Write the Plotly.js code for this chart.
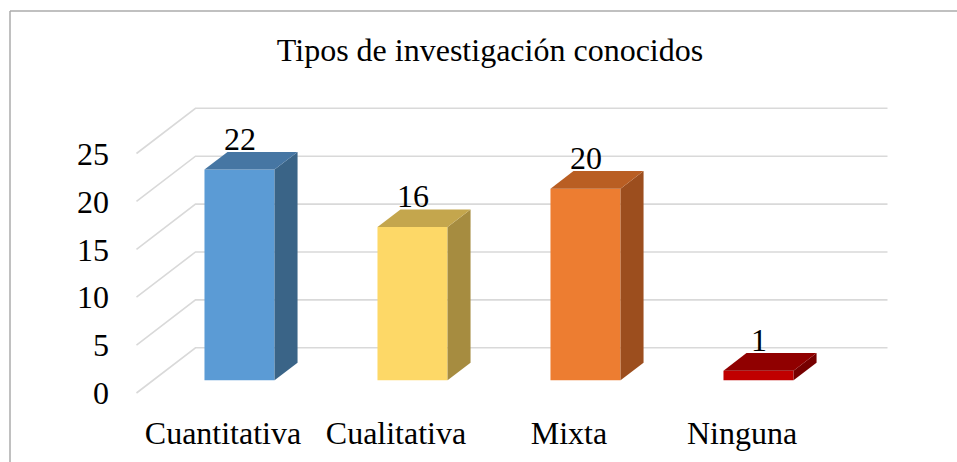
<!DOCTYPE html>
<html>
<head>
<meta charset="utf-8">
<script src="https://cdn.plot.ly/plotly-3.0.1.min.js"></script>
<style>
  html, body { margin: 0; padding: 0; background: #ffffff; }
  #chart { width: 957px; height: 462px; }
</style>
</head>
<body>
<div id="chart"></div>
<script>
// ---- data ----
const categories = ['Cuantitativa', 'Cualitativa', 'Mixta', 'Ninguna'];
const values = [22, 16, 20, 1];
const yTicks = [0, 5, 10, 15, 20, 25];
const titleText = 'Tipos de investigación conocidos';

// ---- styles ----
const frontColors = ['#5B9BD5', '#FDD867', '#ED7D31', '#C00000'];
const topColors   = ['#4676A3', '#C4A64D', '#B95E23', '#900000'];
const sideColors  = ['#3A6487', '#A68C40', '#9C4E1E', '#760000'];

// oblique projection of depth (in axis units)
const DX = 0.341;   // x shift from front plane to back wall
const DY = 4.72;    // y shift from front plane to back wall
const D0 = 0.28;    // bar front depth fraction
const D1 = 0.67;    // bar back depth fraction
const W = 0.405;    // bar width (category units)

const traces = [];

// gridlines (as shapes beneath the bars): front-left slanted segment + back wall line
const gridShapes = yTicks.map(t => ({
  type: 'path', xref: 'x', yref: 'y', layer: 'below',
  path: 'M ' + (-0.5) + ',' + t +
        ' L ' + (-0.5 + DX) + ',' + (t + DY) +
        ' L ' + (categories.length - 0.5 + DX) + ',' + (t + DY),
  line: { color: '#D9D9D9', width: 1.6 }
}));

// bar side and top faces
values.forEach((v, i) => {
  const cx0 = i + D0 * DX;
  const xL0 = cx0 - W / 2, xR0 = cx0 + W / 2;
  const ddx = (D1 - D0) * DX, ddy = (D1 - D0) * DY;
  const b0 = D0 * DY, t0 = v + D0 * DY;
  traces.push({
    type: 'scatter', mode: 'lines', fill: 'toself',
    x: [xR0, xR0, xR0 + ddx, xR0 + ddx, xR0],
    y: [b0, t0, t0 + ddy, b0 + ddy, b0],
    fillcolor: sideColors[i], line: { width: 0, color: sideColors[i] }, hoverinfo: 'skip'
  });
  traces.push({
    type: 'scatter', mode: 'lines', fill: 'toself',
    x: [xL0, xR0, xR0 + ddx, xL0 + ddx, xL0],
    y: [t0, t0, t0 + ddy, t0 + ddy, t0],
    fillcolor: topColors[i], line: { width: 0, color: topColors[i] }, hoverinfo: 'skip'
  });
});

// bar front faces
traces.push({
  type: 'bar',
  x: values.map((v, i) => i + D0 * DX),
  y: values,
  base: values.map(() => D0 * DY),
  width: W,
  marker: { color: frontColors, line: { width: 0 } },
  hoverinfo: 'skip'
});

// value labels
const annotations = values.map((v, i) => ({
  x: i + D0 * DX, y: v + D1 * DY, xref: 'x', yref: 'y',
  text: String(v), showarrow: false, xanchor: 'center', yanchor: 'middle', yshift: 13,
  font: { size: 32, color: '#000000' }
}));

const layout = {
  width: 957, height: 462,
  margin: { l: 113, r: 40, t: 70, b: 51 },
  paper_bgcolor: '#ffffff', plot_bgcolor: '#ffffff',
  showlegend: false,
  font: { family: 'Liberation Serif', size: 32, color: '#000000' },
  title: {
    text: titleText, xref: 'container', yref: 'container',
    x: 490 / 957, xanchor: 'center', y: 1 - 50 / 462, yanchor: 'middle',
    font: { size: 32, color: '#000000' }
  },
  xaxis: {
    range: [-0.6358, 4.0116], tickvals: categories.map((c, i) => i), ticktext: categories,
    showgrid: false, zeroline: false, showline: false, ticks: '',
    tickfont: { size: 32, color: '#000000' }, fixedrange: true
  },
  yaxis: {
    range: [-1.879, 33.716], tickvals: yTicks, ticktext: yTicks.map(String),
    showgrid: false, zeroline: false, showline: false, ticks: '', ticklabelstandoff: 3,
    tickfont: { size: 32, color: '#000000' }, fixedrange: true
  },
  annotations: annotations,
  shapes: gridShapes.concat([
    { type: 'line', xref: 'paper', yref: 'paper', x0: (10 - 113) / 804, x1: (10 - 113) / 804,
      y0: (411 - 11) / 341, y1: (411 - 470) / 341, line: { color: '#ABABAB', width: 1.5 } },
    { type: 'line', xref: 'paper', yref: 'paper', x0: (10 - 113) / 804, x1: (970 - 113) / 804,
      y0: (411 - 11) / 341, y1: (411 - 11) / 341, line: { color: '#ABABAB', width: 1.5 } }
  ])
};

Plotly.newPlot('chart', traces, layout, { staticPlot: true, displayModeBar: false });
</script>
</body>
</html>
